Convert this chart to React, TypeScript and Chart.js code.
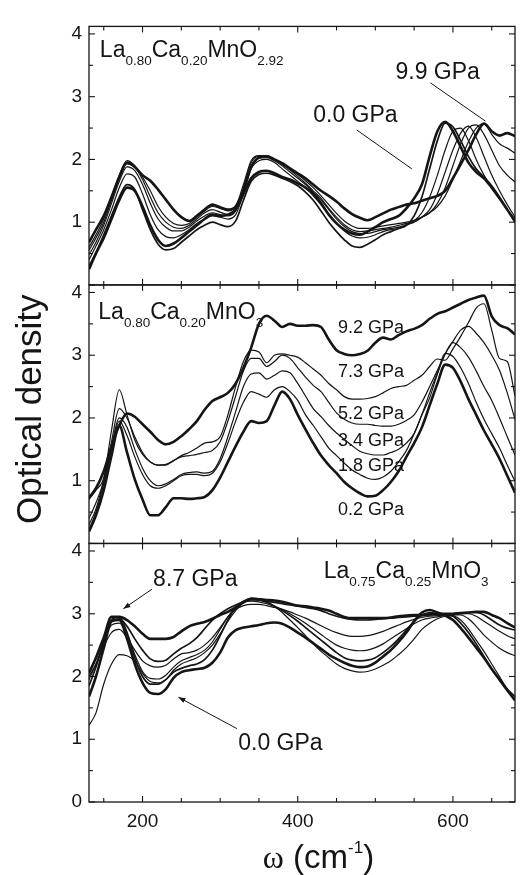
import React, { useEffect, useRef } from 'react';
import { Chart, registerables } from 'chart.js';

Chart.register(...registerables);

// ---------- data ----------
const WAVENUMBER = [131, 140, 150, 160, 170, 180, 190, 200, 210, 220, 230, 240, 250, 260, 270, 280, 290, 300, 310, 320, 330, 340, 350, 360, 370, 380, 390, 400, 410, 420, 430, 440, 450, 460, 470, 480, 490, 500, 510, 520, 530, 540, 550, 560, 570, 580, 590, 600, 610, 620, 630, 640, 650, 660, 670, 680];

// Panel 1: La0.80Ca0.20MnO2.92
const TOP_00 = [0.25,0.5,0.75,1.05,1.35,1.55,1.5,1.25,0.95,0.72,0.62,0.66,0.75,0.85,0.95,1.05,1.12,1.1,1.12,1.2,1.45,1.7,1.8,1.82,1.78,1.72,1.68,1.62,1.55,1.45,1.3,1.12,0.98,0.88,0.82,0.8,0.85,0.92,1.0,1.05,1.1,1.22,1.38,1.6,2.05,2.45,2.6,2.45,2.2,1.95,1.8,1.7,1.55,1.38,1.2,1.02];
const TOP_P1 = [0.3,0.52,0.8,1.1,1.4,1.6,1.52,1.2,0.88,0.65,0.56,0.58,0.68,0.78,0.88,0.95,1.0,0.96,0.93,1.02,1.35,1.65,1.76,1.78,1.75,1.7,1.65,1.58,1.48,1.35,1.18,1.0,0.85,0.72,0.62,0.6,0.65,0.72,0.8,0.85,0.9,0.95,1.1,1.4,1.85,2.3,2.58,2.52,2.3,2.05,1.85,1.72,1.58,1.4,1.2,1.0];
const TOP_P2 = [0.4,0.62,0.88,1.2,1.55,1.77,1.72,1.45,1.12,0.88,0.77,0.75,0.8,0.88,0.98,1.05,1.1,1.08,1.05,1.12,1.45,1.85,1.98,2.0,1.95,1.85,1.75,1.65,1.55,1.42,1.28,1.12,0.98,0.86,0.78,0.75,0.76,0.8,0.85,0.88,0.9,0.95,1.02,1.15,1.4,1.75,2.15,2.45,2.5,2.3,2.0,1.75,1.55,1.38,1.2,1.05];
const TOP_P3 = [0.48,0.68,0.95,1.3,1.65,1.88,1.82,1.6,1.3,1.05,0.92,0.86,0.86,0.92,1.02,1.1,1.15,1.12,1.1,1.18,1.5,1.9,2.02,2.03,1.98,1.9,1.8,1.7,1.6,1.48,1.35,1.2,1.05,0.93,0.85,0.82,0.82,0.85,0.88,0.9,0.92,0.96,1.0,1.08,1.2,1.45,1.8,2.15,2.42,2.53,2.35,2.05,1.75,1.5,1.28,1.08];
const TOP_P4 = [0.55,0.75,1.0,1.35,1.7,1.93,1.88,1.68,1.4,1.15,1.0,0.92,0.9,0.95,1.05,1.15,1.2,1.16,1.12,1.2,1.55,1.95,2.05,2.05,2.0,1.92,1.83,1.73,1.62,1.5,1.38,1.22,1.08,0.96,0.88,0.85,0.86,0.88,0.9,0.92,0.95,0.98,1.02,1.08,1.15,1.3,1.55,1.9,2.25,2.5,2.55,2.4,2.15,1.9,1.75,1.64];
const TOP_P5 = [0.6,0.8,1.05,1.4,1.75,1.98,1.9,1.72,1.5,1.25,1.08,0.98,0.95,0.98,1.08,1.18,1.25,1.22,1.18,1.25,1.6,1.98,2.06,2.06,2.0,1.93,1.85,1.76,1.66,1.55,1.42,1.28,1.14,1.02,0.94,0.9,0.9,0.92,0.94,0.96,0.98,1.0,1.03,1.08,1.15,1.25,1.42,1.68,1.98,2.28,2.5,2.57,2.4,2.25,2.18,2.1];
const TOP_99 = [0.68,0.88,1.1,1.4,1.72,1.95,1.88,1.75,1.66,1.52,1.36,1.2,1.08,1.02,1.1,1.2,1.28,1.24,1.2,1.25,1.5,1.88,2.03,2.05,2.0,1.94,1.86,1.78,1.7,1.6,1.5,1.42,1.33,1.22,1.13,1.07,1.03,1.08,1.14,1.2,1.24,1.28,1.3,1.34,1.38,1.42,1.5,1.7,1.92,2.15,2.4,2.57,2.45,2.38,2.42,2.37];

// Panel 2: La0.80Ca0.20MnO3
const MID_02 = [0.19,0.45,0.85,1.4,1.88,1.45,1.02,0.7,0.45,0.45,0.58,0.72,0.72,0.71,0.72,0.74,0.85,1.05,1.3,1.55,1.78,1.95,1.92,1.95,2.2,2.42,2.3,2.05,1.82,1.6,1.4,1.25,1.12,0.98,0.88,0.8,0.75,0.76,0.85,0.98,1.15,1.38,1.6,1.85,2.2,2.55,2.85,2.8,2.58,2.3,2.05,1.8,1.58,1.35,1.08,0.81];
const MID_18 = [0.22,0.5,0.95,1.5,1.95,1.72,1.38,1.1,0.92,0.88,0.92,1.0,1.08,1.1,1.1,1.08,1.12,1.3,1.6,1.95,2.25,2.42,2.38,2.33,2.45,2.5,2.42,2.28,2.05,1.88,1.7,1.52,1.4,1.28,1.17,1.1,1.04,1.02,1.06,1.15,1.3,1.48,1.75,2.05,2.4,2.72,3.03,2.98,2.8,2.55,2.25,1.98,1.75,1.52,1.25,0.99];
const MID_34 = [0.3,0.55,1.0,1.55,2.0,1.85,1.5,1.2,1.0,0.92,0.95,1.02,1.1,1.13,1.14,1.12,1.15,1.35,1.7,2.1,2.5,2.7,2.72,2.62,2.68,2.75,2.72,2.55,2.35,2.15,2.02,1.88,1.76,1.66,1.56,1.47,1.43,1.41,1.41,1.45,1.5,1.6,1.75,2.05,2.32,2.7,3.02,3.2,3.12,2.97,2.75,2.5,2.28,2.0,1.7,1.41];
const MID_52 = [0.4,0.65,1.0,1.62,2.15,2.0,1.7,1.45,1.3,1.25,1.26,1.32,1.38,1.4,1.42,1.45,1.48,1.62,1.95,2.35,2.75,2.95,2.95,2.82,2.9,3.0,2.95,2.8,2.65,2.52,2.42,2.25,2.08,1.98,1.92,1.9,1.9,1.88,1.87,1.87,1.9,1.96,2.05,2.25,2.5,2.76,3.02,3.22,3.4,3.46,3.35,3.2,3.0,2.76,2.4,1.98];
const MID_73 = [0.7,0.85,1.05,1.8,2.45,2.05,1.65,1.42,1.3,1.25,1.25,1.32,1.4,1.45,1.52,1.6,1.62,1.7,2.05,2.5,2.9,3.08,3.05,2.88,3.0,3.02,3.0,2.97,2.88,2.78,2.68,2.55,2.45,2.34,2.3,2.3,2.31,2.34,2.4,2.47,2.5,2.52,2.6,2.68,2.82,2.94,2.92,3.1,3.3,3.52,3.75,3.82,3.4,2.95,2.9,2.35];
const MID_92 = [0.73,0.88,1.15,1.55,1.88,2.07,2.02,1.9,1.78,1.65,1.58,1.62,1.71,1.82,1.95,2.13,2.27,2.33,2.4,2.55,2.8,3.12,3.5,3.63,3.55,3.45,3.5,3.47,3.47,3.48,3.45,3.25,3.08,3.02,3.0,3.02,3.07,3.2,3.28,3.25,3.32,3.38,3.42,3.48,3.58,3.66,3.7,3.76,3.82,3.88,3.92,3.95,3.62,3.48,3.43,3.33];

// Panel 3: La0.75Ca0.25MnO3
const BOT_00 = [1.68,2.0,2.45,2.88,2.9,2.6,2.2,1.9,1.74,1.72,1.8,1.98,2.07,2.1,2.12,2.14,2.22,2.38,2.62,2.74,2.78,2.8,2.82,2.85,2.86,2.84,2.78,2.7,2.62,2.53,2.44,2.35,2.28,2.22,2.17,2.15,2.16,2.22,2.32,2.42,2.55,2.7,2.88,3.02,3.06,3.02,2.97,2.9,2.77,2.62,2.46,2.3,2.12,1.95,1.78,1.62];
const BOT_P1 = [1.22,1.42,1.88,2.2,2.35,2.33,2.25,2.05,1.92,1.9,1.95,2.1,2.2,2.25,2.3,2.38,2.5,2.68,2.88,3.05,3.18,3.25,3.24,3.2,3.12,3.02,2.9,2.78,2.65,2.52,2.4,2.3,2.2,2.13,2.09,2.07,2.08,2.12,2.18,2.25,2.35,2.46,2.6,2.75,2.85,2.92,2.96,2.97,2.9,2.76,2.58,2.4,2.2,2.0,1.8,1.62];
const BOT_P2 = [1.85,2.15,2.55,2.9,2.95,2.7,2.3,2.0,1.88,1.88,1.95,2.07,2.13,2.17,2.2,2.27,2.42,2.65,2.9,3.1,3.2,3.24,3.22,3.18,3.12,3.05,2.97,2.88,2.78,2.68,2.58,2.48,2.38,2.3,2.26,2.25,2.26,2.3,2.38,2.48,2.6,2.74,2.88,2.98,3.02,3.0,2.98,2.96,2.85,2.7,2.52,2.32,2.12,1.95,1.8,1.68];
const BOT_P3 = [1.95,2.2,2.55,2.82,2.85,2.68,2.35,2.08,1.97,1.96,2.02,2.15,2.25,2.3,2.35,2.42,2.55,2.75,2.95,3.1,3.18,3.2,3.19,3.16,3.12,3.07,3.0,2.93,2.85,2.76,2.67,2.58,2.5,2.45,2.42,2.41,2.42,2.46,2.52,2.6,2.68,2.76,2.84,2.9,2.93,2.95,2.97,2.98,2.98,2.92,2.8,2.66,2.55,2.45,2.38,2.33];
const BOT_P4 = [2.0,2.2,2.48,2.7,2.75,2.62,2.42,2.25,2.17,2.15,2.18,2.28,2.36,2.38,2.42,2.5,2.62,2.78,2.95,3.07,3.13,3.15,3.15,3.13,3.1,3.07,3.03,2.98,2.93,2.87,2.81,2.75,2.7,2.66,2.64,2.64,2.65,2.68,2.72,2.77,2.82,2.87,2.91,2.94,2.96,2.97,2.98,2.99,3.0,3.0,2.96,2.88,2.8,2.72,2.65,2.6];
const BOT_P5 = [2.07,2.3,2.6,2.88,2.92,2.8,2.6,2.42,2.28,2.24,2.26,2.36,2.45,2.52,2.62,2.76,2.9,3.0,3.08,3.14,3.19,3.22,3.22,3.2,3.18,3.16,3.14,3.12,3.1,3.08,3.05,3.0,2.96,2.93,2.91,2.9,2.9,2.91,2.92,2.93,2.94,2.95,2.96,2.97,2.98,2.99,3.0,3.0,3.01,3.02,3.02,2.98,2.9,2.82,2.77,2.74];
const BOT_87 = [2.05,2.3,2.62,2.95,2.95,2.9,2.8,2.68,2.6,2.6,2.6,2.63,2.72,2.8,2.84,2.87,2.92,2.98,3.03,3.1,3.18,3.24,3.23,3.22,3.21,3.19,3.16,3.13,3.12,3.1,3.08,3.05,3.0,2.95,2.93,2.93,2.93,2.93,2.93,2.94,2.96,2.97,2.98,2.98,2.99,3.0,3.0,3.0,3.01,3.02,3.03,3.03,2.98,2.93,2.85,2.78];

// axis ticks
const X_MAJOR = [200, 400, 600];
const X_MINOR = [150, 250, 300, 350, 450, 500, 550, 650];
const Y_MAJOR = [0, 1, 2, 3, 4];
const Y_MINOR = [0.5, 1.5, 2.5, 3.5];
const TOP_Y_LABELS = [1, 2, 3, 4];
const MID_Y_LABELS = [1, 2, 3, 4];
const BOT_Y_LABELS = [0, 1, 2, 3, 4];

// text
const FORMULA_TOP = [['La', 0], ['0.80', 1], ['Ca', 0], ['0.20', 1], ['MnO', 0], ['2.92', 1]];
const FORMULA_MID = [['La', 0], ['0.80', 1], ['Ca', 0], ['0.20', 1], ['MnO', 0], ['3', 1]];
const FORMULA_BOT = [['La', 0], ['0.75', 1], ['Ca', 0], ['0.25', 1], ['MnO', 0], ['3', 1]];
const MID_PRESSURES = ['9.2 GPa', '7.3 GPa', '5.2 GPa', '3.4 GPa', '1.8 GPa', '0.2 GPa'];
const MID_PRESSURE_Y = [3.35, 2.65, 1.98, 1.56, 1.15, 0.45];

// ---------- styles ----------
const FONT = '"Liberation Sans", Arial, Helvetica, sans-serif';
const SERIF = '"Liberation Serif", "Times New Roman", serif';
const INK = '#151515';
const THICK = 2.6;
const MEDIUM = 1.7;
const THIN = 1.2;

const PANELS = [
  { id: 'yTop', weight: 3, labels: TOP_Y_LABELS, series: [
    { label: '0.0 GPa', values: TOP_00, width: THICK },
    { label: 'p1', values: TOP_P1, width: MEDIUM },
    { label: 'p2', values: TOP_P2, width: THIN },
    { label: 'p3', values: TOP_P3, width: THIN },
    { label: 'p4', values: TOP_P4, width: THIN },
    { label: 'p5', values: TOP_P5, width: THIN },
    { label: '9.9 GPa', values: TOP_99, width: THICK },
  ] },
  { id: 'yMid', weight: 2, labels: MID_Y_LABELS, series: [
    { label: '0.2 GPa', values: MID_02, width: THICK },
    { label: '1.8 GPa', values: MID_18, width: THIN },
    { label: '3.4 GPa', values: MID_34, width: THIN },
    { label: '5.2 GPa', values: MID_52, width: THIN },
    { label: '7.3 GPa', values: MID_73, width: THIN },
    { label: '9.2 GPa', values: MID_92, width: THICK },
  ] },
  { id: 'yBot', weight: 1, labels: BOT_Y_LABELS, series: [
    { label: '0.0 GPa', values: BOT_00, width: THICK },
    { label: 'p1', values: BOT_P1, width: THIN },
    { label: 'p2', values: BOT_P2, width: MEDIUM },
    { label: 'p3', values: BOT_P3, width: THIN },
    { label: 'p4', values: BOT_P4, width: THIN },
    { label: 'p5', values: BOT_P5, width: MEDIUM },
    { label: '8.7 GPa', values: BOT_87, width: THICK },
  ] },
];

function drawParts(ctx: any, parts: any[], x: number, y: number, size: number, subSize: number, shift: number) {
  let cx = x;
  ctx.textAlign = 'left';
  ctx.textBaseline = 'alphabetic';
  for (const [t, k] of parts) {
    ctx.font = `${k ? subSize : size}px ${FONT}`;
    ctx.fillText(t, cx, y + (k === 1 ? shift : 0));
    cx += ctx.measureText(t).width;
  }
}

function drawLine(ctx: any, x1: number, y1: number, x2: number, y2: number, head: boolean) {
  ctx.beginPath();
  ctx.moveTo(x1, y1);
  ctx.lineTo(x2, y2);
  ctx.stroke();
  if (head) {
    const a = Math.atan2(y2 - y1, x2 - x1);
    const len = 7, hw = 2.6;
    ctx.beginPath();
    ctx.moveTo(x2, y2);
    ctx.lineTo(x2 - len * Math.cos(a) + hw * Math.sin(a), y2 - len * Math.sin(a) - hw * Math.cos(a));
    ctx.lineTo(x2 - len * Math.cos(a) - hw * Math.sin(a), y2 - len * Math.sin(a) + hw * Math.cos(a));
    ctx.closePath();
    ctx.fill();
  }
}

const decorPlugin = {
  id: 'decor',
  afterDatasetsDraw(chart: any) {
    const { ctx, chartArea, scales } = chart;
    const xs = scales.x;
    const L = chartArea.left, R = chartArea.right;
    ctx.save();
    ctx.strokeStyle = INK;
    ctx.fillStyle = INK;
    const seg = (x1: number, y1: number, x2: number, y2: number) => {
      ctx.beginPath(); ctx.moveTo(x1, y1); ctx.lineTo(x2, y2); ctx.stroke();
    };
    // frames and inward ticks
    for (const p of PANELS) {
      const ys = scales[p.id];
      const T = ys.top, B = ys.bottom;
      ctx.lineWidth = 1.3;
      ctx.strokeRect(L, T, R - L, B - T);
      ctx.lineWidth = 1.1;
      for (const v of X_MAJOR) { const px = xs.getPixelForValue(v); seg(px, B, px, B - 6); seg(px, T, px, T + 6); }
      for (const v of X_MINOR) { const px = xs.getPixelForValue(v); seg(px, B, px, B - 4); seg(px, T, px, T + 4); }
      for (const v of Y_MAJOR) { const py = ys.getPixelForValue(v); seg(L, py, L + 6, py); seg(R, py, R - 6, py); }
      for (const v of Y_MINOR) { const py = ys.getPixelForValue(v); seg(L, py, L + 4, py); seg(R, py, R - 4, py); }
    }
    const X = (v: number) => xs.getPixelForValue(v);
    const yT = scales.yTop, yM = scales.yMid, yB = scales.yBot;

    // formulas
    drawParts(ctx, FORMULA_TOP, X(145), yT.getPixelForValue(3.64), 23, 13.5, 8);
    drawParts(ctx, FORMULA_MID, X(143), yM.getPixelForValue(3.58), 23, 13.5, 8);
    drawParts(ctx, FORMULA_BOT, X(433.5), yB.getPixelForValue(3.57), 23, 13.5, 8);

    // pressure labels
    ctx.textAlign = 'left';
    ctx.textBaseline = 'alphabetic';
    ctx.font = `23px ${FONT}`;
    ctx.fillText('9.9 GPa', X(526), yT.getPixelForValue(3.275));
    ctx.fillText('0.0 GPa', X(420), yT.getPixelForValue(2.6));
    ctx.fillText('8.7 GPa', X(213.6), yB.getPixelForValue(3.44));
    ctx.fillText('0.0 GPa', X(323.3), yB.getPixelForValue(0.83));
    ctx.font = `18px ${FONT}`;
    MID_PRESSURES.forEach((t, i) => ctx.fillText(t, X(452), yM.getPixelForValue(MID_PRESSURE_Y[i])));

    // pointer lines
    ctx.lineWidth = 1;
    drawLine(ctx, X(571), yT.getPixelForValue(3.22), X(642), yT.getPixelForValue(2.61), false);
    drawLine(ctx, X(476), yT.getPixelForValue(2.47), X(547), yT.getPixelForValue(1.85), false);
    drawLine(ctx, X(212), yB.getPixelForValue(3.39), X(175.3), yB.getPixelForValue(3.08), true);
    drawLine(ctx, X(321.6), yB.getPixelForValue(1.17), X(246.2), yB.getPixelForValue(1.67), true);

    // y title
    ctx.save();
    ctx.translate(L - 58, (chartArea.top + chartArea.bottom) / 2 - 5);
    ctx.rotate(-Math.PI / 2);
    ctx.textAlign = 'center';
    ctx.textBaseline = 'middle';
    ctx.font = `35px ${FONT}`;
    ctx.fillText('Optical density', 0, 0);
    ctx.restore();

    // x title: ω (cm-1)
    const base = chartArea.bottom + 66;
    let cx = X(355);
    ctx.textAlign = 'left';
    ctx.textBaseline = 'alphabetic';
    ctx.font = `32px ${SERIF}`;
    ctx.fillText('\u03c9', cx, base);
    cx += ctx.measureText('\u03c9').width;
    ctx.font = `33px ${FONT}`;
    ctx.fillText(' (cm', cx, base);
    cx += ctx.measureText(' (cm').width;
    ctx.font = `17px ${FONT}`;
    ctx.fillText('-1', cx, base - 15);
    cx += ctx.measureText('-1').width;
    ctx.font = `33px ${FONT}`;
    ctx.fillText(')', cx, base);
    ctx.restore();
  },
};

function yAxis(weight: number, labels: number[]) {
  return {
    type: 'linear',
    position: 'left',
    stack: 'panels',
    stackWeight: 1,
    weight,
    min: 0,
    max: 4.12,
    grid: { display: false, drawTicks: false },
    border: { display: false },
    ticks: { font: { size: 19, family: FONT }, color: INK, padding: 7 },
    afterBuildTicks: (s: any) => { s.ticks = labels.map((v) => ({ value: v })); },
    afterFit: (s: any) => { s.width = 81; },
  };
}

export default function App() {
  const ref = useRef<HTMLCanvasElement>(null);
  useEffect(() => {
    document.documentElement.style.overflow = 'hidden';
    document.body.style.overflow = 'hidden';
    const canvas = ref.current;
    if (!canvas) return;
    const datasets: any[] = [];
    for (const p of PANELS) {
      for (const s of p.series) {
        datasets.push({
          label: s.label,
          data: WAVENUMBER.map((x, i) => ({ x, y: s.values[i] })),
          yAxisID: p.id,
          xAxisID: 'x',
          borderColor: INK,
          backgroundColor: INK,
          borderWidth: s.width,
          pointRadius: 0,
          fill: false,
          cubicInterpolationMode: 'monotone',
        });
      }
    }
    const scales: any = {
      x: {
        type: 'linear',
        position: 'bottom',
        min: 131,
        max: 680,
        grid: { display: false, drawTicks: false },
        border: { display: false },
        ticks: { font: { size: 19, family: FONT }, color: INK, padding: 8, maxRotation: 0, autoSkip: false },
        afterBuildTicks: (s: any) => { s.ticks = X_MAJOR.map((v) => ({ value: v })); },
        afterFit: (s: any) => { s.height = 73; },
      },
    };
    for (const p of PANELS) scales[p.id] = yAxis(p.weight, p.labels);

    const chart = new Chart(canvas, {
      type: 'line',
      data: { datasets },
      options: {
        responsive: false,
        animation: false,
        devicePixelRatio: 1,
        events: [],
        layout: { padding: { top: 1, right: 3, left: 0, bottom: 0 } },
        plugins: { legend: { display: false }, tooltip: { enabled: false } },
        scales,
      },
      plugins: [decorPlugin],
    } as any);
    return () => chart.destroy();
  }, []);
  return (
    <div style={{ width: 510, height: 867 }}>
      <canvas ref={ref} width={510} height={867} style={{ display: 'block', width: 510, height: 867 }} />
    </div>
  );
}
